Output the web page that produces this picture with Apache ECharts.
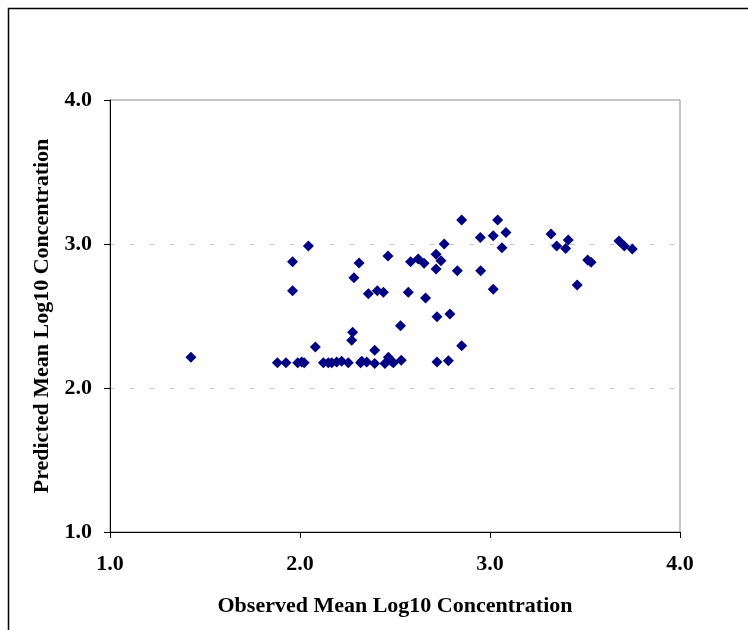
<!DOCTYPE html>
<html>
<head>
<meta charset="utf-8">
<script src="https://cdn.jsdelivr.net/npm/echarts@6/dist/echarts.min.js"></script>
<style>
  html, body { margin: 0; padding: 0; background: #fff; }
  #chart { width: 748px; height: 630px; }
</style>
</head>
<body>
<div id="chart"></div>
<script>
// Observed vs predicted mean log10 concentration, one pair per site
const observed = [
  1.426, 1.881, 1.926, 1.988, 2.009, 2.022, 1.961, 1.961, 2.044, 2.081,
  2.123, 2.149, 2.167, 2.193, 2.219, 2.254, 2.319, 2.351, 2.277, 2.272,
  2.284, 2.311, 2.360, 2.463, 2.407, 2.439, 2.570, 2.661, 2.529, 2.393,
  2.325, 2.393, 2.447, 2.465, 2.482, 2.491, 2.533, 2.582, 2.622, 2.653,
  2.716, 2.742, 2.716, 2.759, 2.828, 2.721, 2.789, 2.851, 2.721, 2.781,
  2.851, 2.949, 2.951, 3.017, 3.040, 3.084, 3.063, 3.017, 3.321, 3.351,
  3.412, 3.398, 3.514, 3.532, 3.459, 3.679, 3.707, 3.749
];
const predicted = [
  2.213, 2.176, 2.176, 2.176, 2.180, 2.176, 2.877, 2.676, 2.986, 2.285,
  2.176, 2.176, 2.176, 2.181, 2.186, 2.176, 2.176, 2.181, 2.387, 2.331,
  2.766, 2.868, 2.655, 2.917, 2.676, 2.665, 2.665, 2.625, 2.433, 2.262,
  2.186, 2.170, 2.170, 2.213, 2.186, 2.176, 2.192, 2.877, 2.896, 2.866,
  2.928, 2.884, 2.826, 3.000, 2.815, 2.495, 2.514, 2.294, 2.181, 2.190,
  3.167, 3.046, 2.815, 3.058, 3.167, 3.079, 2.974, 2.685, 3.069, 2.986,
  3.028, 2.968, 2.889, 2.873, 2.715, 3.021, 2.986, 2.965
];
const axisTicks = [1.0, 2.0, 3.0, 4.0];

const points = observed.map((x, i) => [x, predicted[i]]);
const serif = '"Liberation Serif", "Times New Roman", serif';
const fmt = v => axisTicks.includes(v) ? v.toFixed(1) : '';

const chart = echarts.init(document.getElementById('chart'), null, { renderer: 'canvas' });
chart.setOption({
  backgroundColor: '#ffffff',
  animation: false,
  graphic: [{
    type: 'rect',
    shape: { x: 8.5, y: 8.5, width: 800, height: 700 },
    style: { fill: 'none', stroke: '#000', lineWidth: 1.5 },
    z: -1
  }],
  grid: {
    left: 110, right: 68, top: 100, bottom: 98,
    show: true, borderColor: '#8c8c8c', borderWidth: 1, backgroundColor: 'transparent'
  },
  xAxis: {
    type: 'value', min: 1, max: 4, interval: 1,
    name: 'Observed Mean Log10 Concentration',
    nameLocation: 'middle', nameGap: 63,
    nameTextStyle: { fontFamily: serif, fontWeight: 'bold', fontSize: 22, color: '#000' },
    axisLine: { show: true, lineStyle: { color: '#000', width: 1 } },
    axisTick: { show: true, inside: false, length: 6, lineStyle: { color: '#000' } },
    axisLabel: { formatter: fmt, margin: 21, fontFamily: serif, fontWeight: 'bold', fontSize: 22, color: '#000' },
    splitLine: { show: false }
  },
  yAxis: {
    type: 'value', min: 1, max: 4, interval: 1,
    name: 'Predicted Mean Log10 Concentration',
    nameLocation: 'middle', nameGap: 57,
    nameTextStyle: { fontFamily: serif, fontWeight: 'bold', fontSize: 22, color: '#000' },
    axisLine: { show: true, lineStyle: { color: '#000', width: 1 } },
    axisTick: { show: true, inside: false, length: 6, lineStyle: { color: '#000' } },
    axisLabel: { formatter: fmt, margin: 18, fontFamily: serif, fontWeight: 'bold', fontSize: 22, color: '#000' },
    splitLine: { show: true, lineStyle: { color: '#c4c4c4', type: [4, 16], width: 1 } }
  },
  series: [{
    type: 'scatter',
    data: points,
    symbol: 'diamond',
    symbolSize: 11,
    itemStyle: { color: '#000080', opacity: 1 }
  }]
});
</script>
</body>
</html>
